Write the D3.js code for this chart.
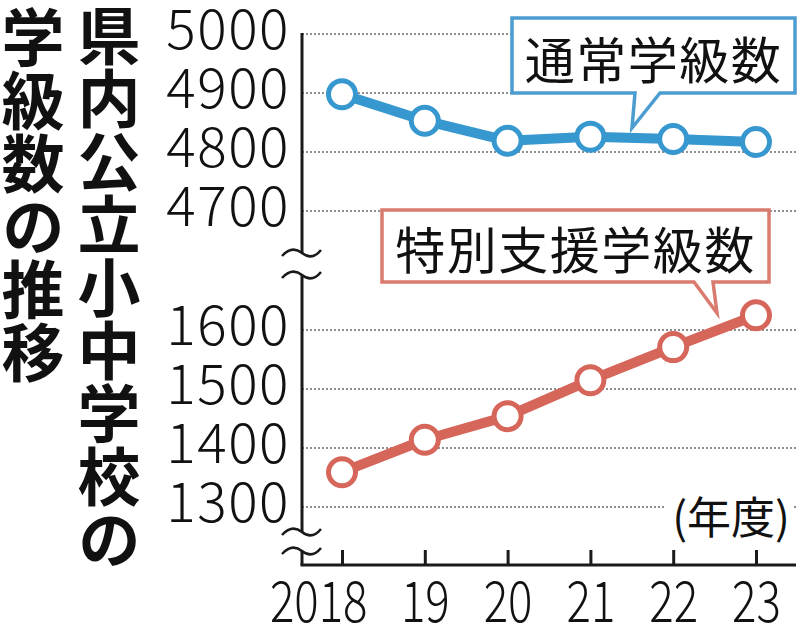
<!DOCTYPE html>
<html><head><meta charset="utf-8">
<script src="https://cdn.jsdelivr.net/npm/d3@7"></script>
<style>
html,body{margin:0;padding:0;background:#fff;}
svg{display:block;}
text{font-family:"Noto Sans CJK JP","Noto Sans",sans-serif;}
</style></head>
<body>
<svg id="chart" width="800" height="637"></svg>
<script>
// ---- data ----
const years = ["2018", "19", "20", "21", "22", "23"];
const regularClasses = [4898, 4853, 4819, 4826, 4822, 4817];
const specialClasses = [1359, 1414, 1454, 1515, 1571, 1625];
const upperTicks = [5000, 4900, 4800, 4700];
const lowerTicks = [1600, 1500, 1400, 1300];
const titleRight = "県内公立小中学校の";
const titleLeft = "学級数の推移";
const regularLabel = "通常学級数";
const specialLabel = "特別支援学級数";
const unitLabel = "(年度)";

// ---- layout ----
const W = 800, H = 637;
const axisX = 302, axisRight = 796, baseY = 565;
const blue = "#3797cf", blueBox = "#4b9dd1";
const red = "#d6655a", redBox = "#d97b6e";

const svg = d3.select("#chart");

const x = d3.scalePoint().domain(years).range([342, 756]);
const yU = d3.scaleLinear().domain([4700, 5000]).range([211, 34]);
const yL = d3.scaleLinear().domain([1300, 1600]).range([507, 330]);

// ---- title (vertical writing) ----
svg.append("text").text(titleRight)
  .attr("x", 109).attr("y", 4)
  .style("writing-mode", "vertical-rl")
  .attr("font-size", 63).attr("font-weight", 700).attr("fill", "#111");
svg.append("text").text(titleLeft)
  .attr("x", 33).attr("y", 6)
  .style("writing-mode", "vertical-rl")
  .attr("font-size", 63).attr("font-weight", 700).attr("fill", "#111");

// ---- gridlines ----
const grid = svg.append("g").attr("stroke", "#8f8f8f").attr("stroke-width", 2)
  .attr("stroke-dasharray", "2,2");
grid.selectAll("line.u").data(upperTicks).join("line").attr("class", "u")
  .attr("x1", axisX).attr("x2", axisRight)
  .attr("y1", d => yU(d)).attr("y2", d => yU(d));
grid.selectAll("line.l").data(lowerTicks).join("line").attr("class", "l")
  .attr("x1", axisX).attr("x2", axisRight)
  .attr("y1", d => yL(d)).attr("y2", d => yL(d));

// ---- y axes labels ----
function styleY(g) {
  g.select(".domain").remove();
  g.selectAll(".tick line").remove();
  g.selectAll(".tick text")
    .attr("font-size", 55).attr("fill", "#111").attr("font-weight", 300)
    .attr("letter-spacing", 1.5)
    .attr("font-family", '"Noto Sans CJK JP", sans-serif')
    .attr("dy", "0.34em").attr("y", -4);
}
svg.append("g").attr("transform", `translate(${axisX},0)`)
  .call(d3.axisLeft(yU).tickValues(upperTicks).tickSize(0).tickPadding(12).tickFormat(d3.format("d")))
  .call(styleY);
svg.append("g").attr("transform", `translate(${axisX},0)`)
  .call(d3.axisLeft(yL).tickValues(lowerTicks).tickSize(0).tickPadding(12).tickFormat(d3.format("d")))
  .call(styleY);

// ---- axis line with breaks ----
const ax = svg.append("g").attr("stroke", "#1a1a1a").attr("stroke-width", 3).attr("fill", "none");
const breakU = [253, 275], breakL = [532, 551];
ax.append("line").attr("x1", axisX).attr("x2", axisX).attr("y1", yU(5000) - 1).attr("y2", breakU[0]);
ax.append("line").attr("x1", axisX).attr("x2", axisX).attr("y1", breakU[1]).attr("y2", breakL[0]);
ax.append("line").attr("x1", axisX).attr("x2", axisX).attr("y1", breakL[1]).attr("y2", baseY);
ax.append("line").attr("x1", axisX - 1.5).attr("x2", axisRight).attr("y1", baseY).attr("y2", baseY);
[...breakU, ...breakL].forEach(yb => {
  ax.append("path").attr("stroke-width", 2.5)
    .attr("d", `M282,${yb + 3} Q292,${yb - 8} ${axisX},${yb} T${axisX + 19},${yb - 3}`);
});

// ---- x axis ticks and labels ----
const xg = svg.append("g").attr("transform", `translate(0,${baseY})`)
  .call(d3.axisBottom(x).tickSizeInner(-15).tickSizeOuter(0).tickPadding(0));
xg.select(".domain").remove();
xg.selectAll(".tick line").attr("stroke", "#1a1a1a").attr("stroke-width", 3);
xg.selectAll(".tick text")
  .attr("font-size", 57).attr("fill", "#111").attr("font-weight", 300)
  .attr("font-family", '"Noto Sans CJK JP", sans-serif')
  .attr("y", 57).attr("dy", 0)
  .each(function () {
    const len = this.getComputedTextLength();
    d3.select(this).attr("textLength", len * 0.8).attr("lengthAdjust", "spacingAndGlyphs");
  });
xg.selectAll(".tick text").filter(d => d === years[0])
  .attr("text-anchor", "end").attr("x", 25);

// ---- unit label ----
const unit = svg.append("g");
const ut = unit.append("text").text(unitLabel)
  .attr("x", 790).attr("y", 515).attr("text-anchor", "end")
  .attr("dominant-baseline", "central")
  .attr("font-size", 44).attr("fill", "#111");
const ub = ut.node().getBBox();
unit.insert("rect", "text").attr("x", ub.x - 8).attr("y", ub.y).attr("width", ub.width + 12)
  .attr("height", ub.height).attr("fill", "#fff");

// ---- series ----
function series(values, yScale, color) {
  const g = svg.append("g");
  const line = d3.line().x((d, i) => x(years[i])).y(d => yScale(d));
  g.append("path").datum(values).attr("d", line)
    .attr("fill", "none").attr("stroke", color).attr("stroke-width", 10)
    .attr("stroke-linejoin", "round");
  g.selectAll("circle").data(values).join("circle")
    .attr("cx", (d, i) => x(years[i])).attr("cy", d => yScale(d))
    .attr("r", 13.5).attr("fill", "#fff").attr("stroke", color).attr("stroke-width", 5);
}
series(regularClasses, yU, blue);
series(specialClasses, yL, red);

// ---- callouts ----
function callout(box, tip, baseA, baseB, color, label) {
  const [x0, y0, x1, y1] = box;
  const d = `M${x0},${y0} H${x1} V${y1} H${baseB} L${tip[0]},${tip[1]} L${baseA},${y1} H${x0} Z`;
  svg.append("path").attr("d", d).attr("fill", "#fff")
    .attr("stroke", color).attr("stroke-width", 3.5).attr("stroke-linejoin", "miter");
  svg.append("text").text(label)
    .attr("x", (x0 + x1) / 2).attr("y", (y0 + y1) / 2 + 1)
    .attr("text-anchor", "middle").attr("dominant-baseline", "central")
    .attr("font-size", 50).attr("letter-spacing", 1.5).attr("fill", "#111");
}
callout([512, 18, 795, 93], [632, 128], 635, 660, blueBox, regularLabel);
callout([382, 210, 769, 282], [717, 313], 694, 713, redBox, specialLabel);
</script>
</body></html>
